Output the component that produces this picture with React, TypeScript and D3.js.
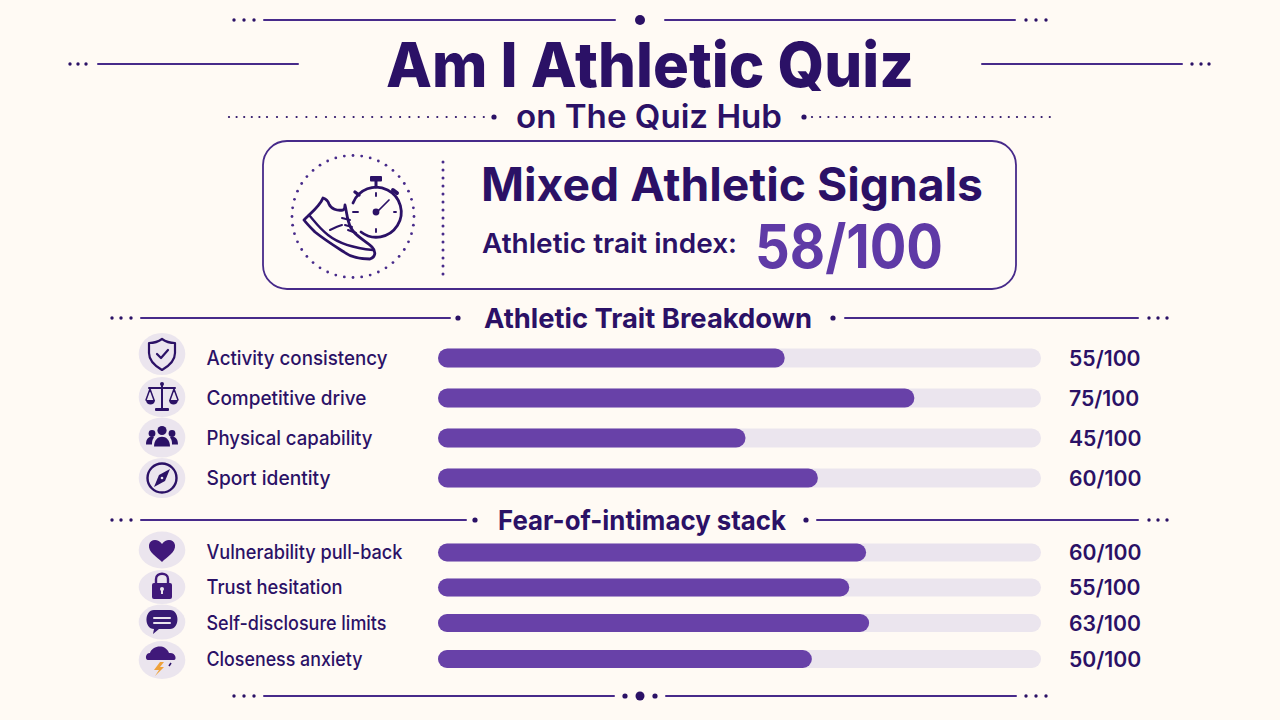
import React from "react";
import * as d3 from "d3";

const traitLabels = ["Activity consistency", "Competitive drive", "Physical capability", "Sport identity"];
const traitScores = ["55/100", "75/100", "45/100", "60/100"];
const traitFill = [57.5, 79, 51, 63];
const fearLabels = ["Vulnerability pull-back", "Trust hesitation", "Self-disclosure limits", "Closeness anxiety"];
const fearScores = ["60/100", "55/100", "63/100", "50/100"];
const fearFill = [71, 68.2, 71.5, 62];

const traitRowY = [358, 398, 438, 478];
const fearRowY = [552.5, 587.5, 623, 659];
const traitIconY = [354, 397, 437.5, 478];
const fearIconY = [550, 587, 622, 660];
const traitIconRy = [21, 20, 20, 20];
const fearIconRy = [18.5, 17, 17.5, 19];
const traitLabelW = [181, 160, 166, 124];
const fearLabelW = [196, 136, 180, 156];

const DARK = "#2b1166";
const MID = "#6841a8";
const TRACK = "#ebe5ee";
const ICONBG = "#ebe5ee";
const BG = "#fffaf4";
const FONT = "Inter, 'Noto Sans', sans-serif";

const x = d3.scaleLinear().domain([0, 100]).range([438, 1041]);

function Dots({ xs, y, r = 1.7 }: { xs: number[]; y: number; r?: number }) {
  return <g fill={DARK}>{xs.map((c, i) => <circle key={i} cx={c} cy={y} r={r} />)}</g>;
}
function Rule({ x1, x2, y, w = 2 }: { x1: number; x2: number; y: number; w?: number }) {
  return <line x1={x1} x2={x2} y1={y} y2={y} stroke="#472a8a" strokeWidth={w} strokeLinecap="round" />;
}

function Icon({ i, y, ry }: { i: string; y: number; ry: number }) {
  const s = { fill: "none", stroke: DARK, strokeWidth: 2.2, strokeLinecap: "round" as const, strokeLinejoin: "round" as const };
  return (
    <g>
      <ellipse cx={162} cy={y} rx={23.3} ry={ry} fill={ICONBG} />
      <g transform={`translate(162,${y})`}>
        {i === "shield" && <g {...s}>
          <path d="M0,-15 C4,-12 9,-11 13,-11 L13,-1 C13,7 7,12 0,16 C-7,12 -13,7 -13,-1 L-13,-11 C-9,-11 -4,-12 0,-15 Z" />
          <path d="M-5,0 L-1,4 L6,-4" />
        </g>}
        {i === "scale" && <g>
          <g {...s} strokeWidth={1.5}>
            <path d="M0,-13 L0,11 M-13,-9 L13,-9" strokeWidth={2} />
            <path d="M-12,-8 L-16,3 M-12,-8 L-8,3 M12,-8 L8,3 M12,-8 L16,3" />
          </g>
          <path d="M-16,3 H-7 C-7,9 -16,9 -16,3 Z M7,3 H16 C16,9 7,9 7,3 Z" fill={DARK} />
          <circle cy={-13} r={2} fill={DARK} />
          <rect x={-7} y={11} width={14} height={3} rx={1} fill={DARK} />
        </g>}
        {i === "people" && <g fill={DARK}>
          <circle cy={-7} r={4.6} /><circle cx={-10} cy={-4} r={3.4} /><circle cx={10} cy={-4} r={3.4} />
          <path d="M-8,9 C-8,-4 8,-4 8,9 Z" />
          <path d="M-16,7 C-16,-2 -9,-1 -8,0 C-10,2 -10,5 -10,7 Z M16,7 C16,-2 9,-1 8,0 C10,2 10,5 10,7 Z" />
        </g>}
        {i === "compass" && <g>
          <circle r={14.5} fill="none" stroke={DARK} strokeWidth={2.4} />
          <path d="M8,-9 L3,3 L-8,9 L-3,-3 Z" fill={DARK} />
          <circle r={1.3} fill={ICONBG} />
        </g>}
        {i === "heart" && <path d="M0,12 C-5,7 -14,2 -13,-5 C-12,-11 -4,-12 0,-6 C4,-12 12,-11 13,-5 C14,2 5,7 0,12 Z" fill="#40197a" />}
        {i === "lock" && <g>
          <path d="M-6,-3 V-8 C-6,-15 6,-15 6,-8 V-3" fill="none" stroke="#40197a" strokeWidth={2.4} />
          <rect x={-10} y={-4} width={20} height={16} rx={2} fill="#40197a" />
          <circle cy={2} r={2} fill={ICONBG} /><rect x={-1} y={2} width={2} height={5} fill={ICONBG} />
        </g>}
        {i === "chat" && <g>
          <path d="M-8,-12 H8 C18,-12 18,7 8,7 H-3 L-9,12 L-8,7 C-18,7 -18,-12 -8,-12 Z" fill="#371a74" />
          <path d="M-8,-4 H8 M-8,1 H8" stroke={ICONBG} strokeWidth={2} strokeLinecap="round" />
        </g>}
        {i === "storm" && <g>
          <path d="M-14,0 C-17,0 -17,-7 -12,-7 C-10,-14 3,-17 7,-7 C14,-8 15,0 12,0 Z" fill="#40197a" />
          <path d="M-2,2 L-8,10 L-3,10 L-7,16 L2,7 L-2,7 L2,2 Z" fill="#eea23a" />
          <path d="M9,3 L7,6" stroke={DARK} strokeWidth={1.5} />
        </g>}
      </g>
    </g>
  );
}

function Rows({ labels, scores, fill, ys, iconYs, iconRy, icons, h, widths }: any) {
  return <g>
    {labels.map((l: string, k: number) => (
      <g key={l}>
        <Icon i={icons[k]} y={iconYs[k]} ry={iconRy[k]} />
        <text x={206.5} y={ys[k]} dy="0.35em" fontSize={19.5} fontWeight={500} fill={DARK} fontFamily={FONT} textLength={widths[k]} lengthAdjust="spacingAndGlyphs">{l}</text>
        <rect x={x(0)} y={ys[k] - h / 2} width={x(100) - x(0)} height={h} rx={h / 2} fill={TRACK} />
        <rect x={x(0)} y={ys[k] - h / 2} width={x(fill[k]) - x(0)} height={h} rx={h / 2} fill={MID} />
        <text x={1069} y={ys[k]} dy="0.36em" fontSize={21.2} fontWeight={600} fill={DARK} fontFamily={FONT}>{scores[k]}</text>
      </g>
    ))}
  </g>;
}

export default function App() {
  const ringDots = d3.range(44).map(i => (i / 44) * 2 * Math.PI);
  const vDots = d3.range(15).map(i => 162 + i * 8);
  const subDots = d3.range(6).map(i => 229 + i * 7.6)
    .concat(d3.range(6).map(i => 277 + i * 9.8))
    .concat(d3.range(17).map(i => 335 + i * 9.3));
  return (
    <svg width={1280} height={720} viewBox="0 0 1280 720" style={{ position: "absolute", left: 0, top: 0, background: BG }}>
      <rect width={1280} height={720} fill={BG} />

      <Dots xs={[234, 244, 254]} y={20} /><Rule x1={264} x2={615} y={20} /><circle cx={640} cy={20} r={5} fill={DARK} /><Rule x1={665} x2={1015} y={20} /><Dots xs={[1026, 1036, 1046]} y={20} />

      <Dots xs={[70, 78, 86]} y={64} /><Rule x1={98} x2={298} y={64} /><Rule x1={982} x2={1182} y={64} /><Dots xs={[1192, 1201, 1209]} y={64} />
      <text x={650} y={87} textAnchor="middle" fontSize={62} fontWeight={800} fill={DARK} fontFamily={FONT} textLength={528} lengthAdjust="spacingAndGlyphs">Am I Athletic Quiz</text>

      <Dots xs={subDots} y={117} r={1.1} />
      <circle cx={494} cy={117} r={2.6} fill={DARK} />
      <text x={649} y={128} textAnchor="middle" fontSize={32} fontWeight={600} fill={DARK} fontFamily={FONT} textLength={266} lengthAdjust="spacingAndGlyphs">on The Quiz Hub</text>
      <circle cx={804} cy={117} r={2.6} fill={DARK} />
      <Dots xs={d3.range(30).map(i => 812 + i * 8.2)} y={117} r={1.1} />

      <rect x={263} y={141} width={753} height={148} rx={24} fill="#fffbf6" stroke="#472a8a" strokeWidth={1.8} />
      <g fill="#472a8a">{ringDots.map((a, i) => <circle key={i} cx={353 + 61 * Math.cos(a)} cy={216.5 + 61 * Math.sin(a)} r={1.4} />)}</g>
      <g fill="#472a8a">{vDots.map((c, i) => <circle key={i} cx={443} cy={c} r={1.5} />)}</g>
      <g fill="none" stroke={DARK} strokeWidth={2.8} strokeLinecap="round" strokeLinejoin="round">
        <path d="M353,203 A25,25 0 1 1 361,232" />
        <path d="M376,181 V187" strokeWidth={3} />
        <path d="M393,190 L397,193" strokeWidth={4} />
        <path d="M355,192 L359,195" strokeWidth={3.4} />
        <path d="M377,212 L389,200" strokeWidth={1.7} />
        <path d="M376,193 V196 M376,229 V232 M394,212 H396 M353,212 H358" strokeWidth={1.9} />
        <path d="M304,220 C311,213 320,206 323,198 C326,199 328,201 329,204 C331,209 337,211 343,210 C345,209 345,207 345,205 C347,213 347,221 351,228 C355,236 366,241 372,247 C376,251 376,257 370,259 C362,259 352,258 344,252 C333,245 325,240 315,232 C311,228 307,224 304,220 Z" />
        <path d="M309,215 C315,222 320,229 328,235 C338,243 352,248 373,250" strokeWidth={2.4} />
        <path d="M342,218 L350,220 M345,225 L352,227 M348,230 L356,233 M330,230 C334,228 338,226 342,225" strokeWidth={2} />
      </g>
      <rect x={370} y={176} width={12} height={5.5} rx={1} fill={DARK} />
      <circle cx={376} cy={212} r={3.4} fill={DARK} />

      <text x={732} y={201} textAnchor="middle" fontSize={46} fontWeight={700} fill={DARK} fontFamily={FONT} textLength={502} lengthAdjust="spacingAndGlyphs">Mixed Athletic Signals</text>
      <text x={482} y={253} fontSize={27.5} fontWeight={600} fill={DARK} fontFamily={FONT} textLength={255} lengthAdjust="spacingAndGlyphs">Athletic trait index:</text>
      <text x={755} y={268} fontSize={60} fontWeight={700} fill="#5f3aa6" fontFamily={FONT} textLength={188} lengthAdjust="spacingAndGlyphs">58/100</text>

      <Dots xs={[112, 121, 131]} y={318} /><Rule x1={141} x2={450} y={318} /><circle cx={458} cy={318} r={2.6} fill={DARK} />
      <text x={648} y={328} textAnchor="middle" fontSize={27.5} fontWeight={700} fill={DARK} fontFamily={FONT} textLength={328} lengthAdjust="spacingAndGlyphs">Athletic Trait Breakdown</text>
      <circle cx={833} cy={318} r={2.6} fill={DARK} /><Rule x1={845} x2={1138} y={318} /><Dots xs={[1149, 1158, 1167]} y={318} />
      <Rows labels={traitLabels} scores={traitScores} fill={traitFill} ys={traitRowY} iconYs={traitIconY} iconRy={traitIconRy} widths={traitLabelW} icons={["shield", "scale", "people", "compass"]} h={19} />

      <Dots xs={[112, 121, 131]} y={520} /><Rule x1={141} x2={466} y={520} /><circle cx={475} cy={520} r={2.6} fill={DARK} />
      <text x={642} y={530} textAnchor="middle" fontSize={27} fontWeight={700} fill={DARK} fontFamily={FONT} textLength={288} lengthAdjust="spacingAndGlyphs">Fear-of-intimacy stack</text>
      <circle cx={806} cy={520} r={2.6} fill={DARK} /><Rule x1={817} x2={1138} y={520} /><Dots xs={[1149, 1158, 1167]} y={520} />
      <Rows labels={fearLabels} scores={fearScores} fill={fearFill} ys={fearRowY} iconYs={fearIconY} iconRy={fearIconRy} widths={fearLabelW} icons={["heart", "lock", "chat", "storm"]} h={18} />

      <Dots xs={[234, 244, 254]} y={696} /><Rule x1={264} x2={614} y={696} /><circle cx={625} cy={696} r={2.6} fill={DARK} /><circle cx={640} cy={696} r={4.5} fill={DARK} /><circle cx={655} cy={696} r={2.6} fill={DARK} /><Rule x1={666} x2={1016} y={696} /><Dots xs={[1026, 1036, 1046]} y={696} />
    </svg>
  );
}
